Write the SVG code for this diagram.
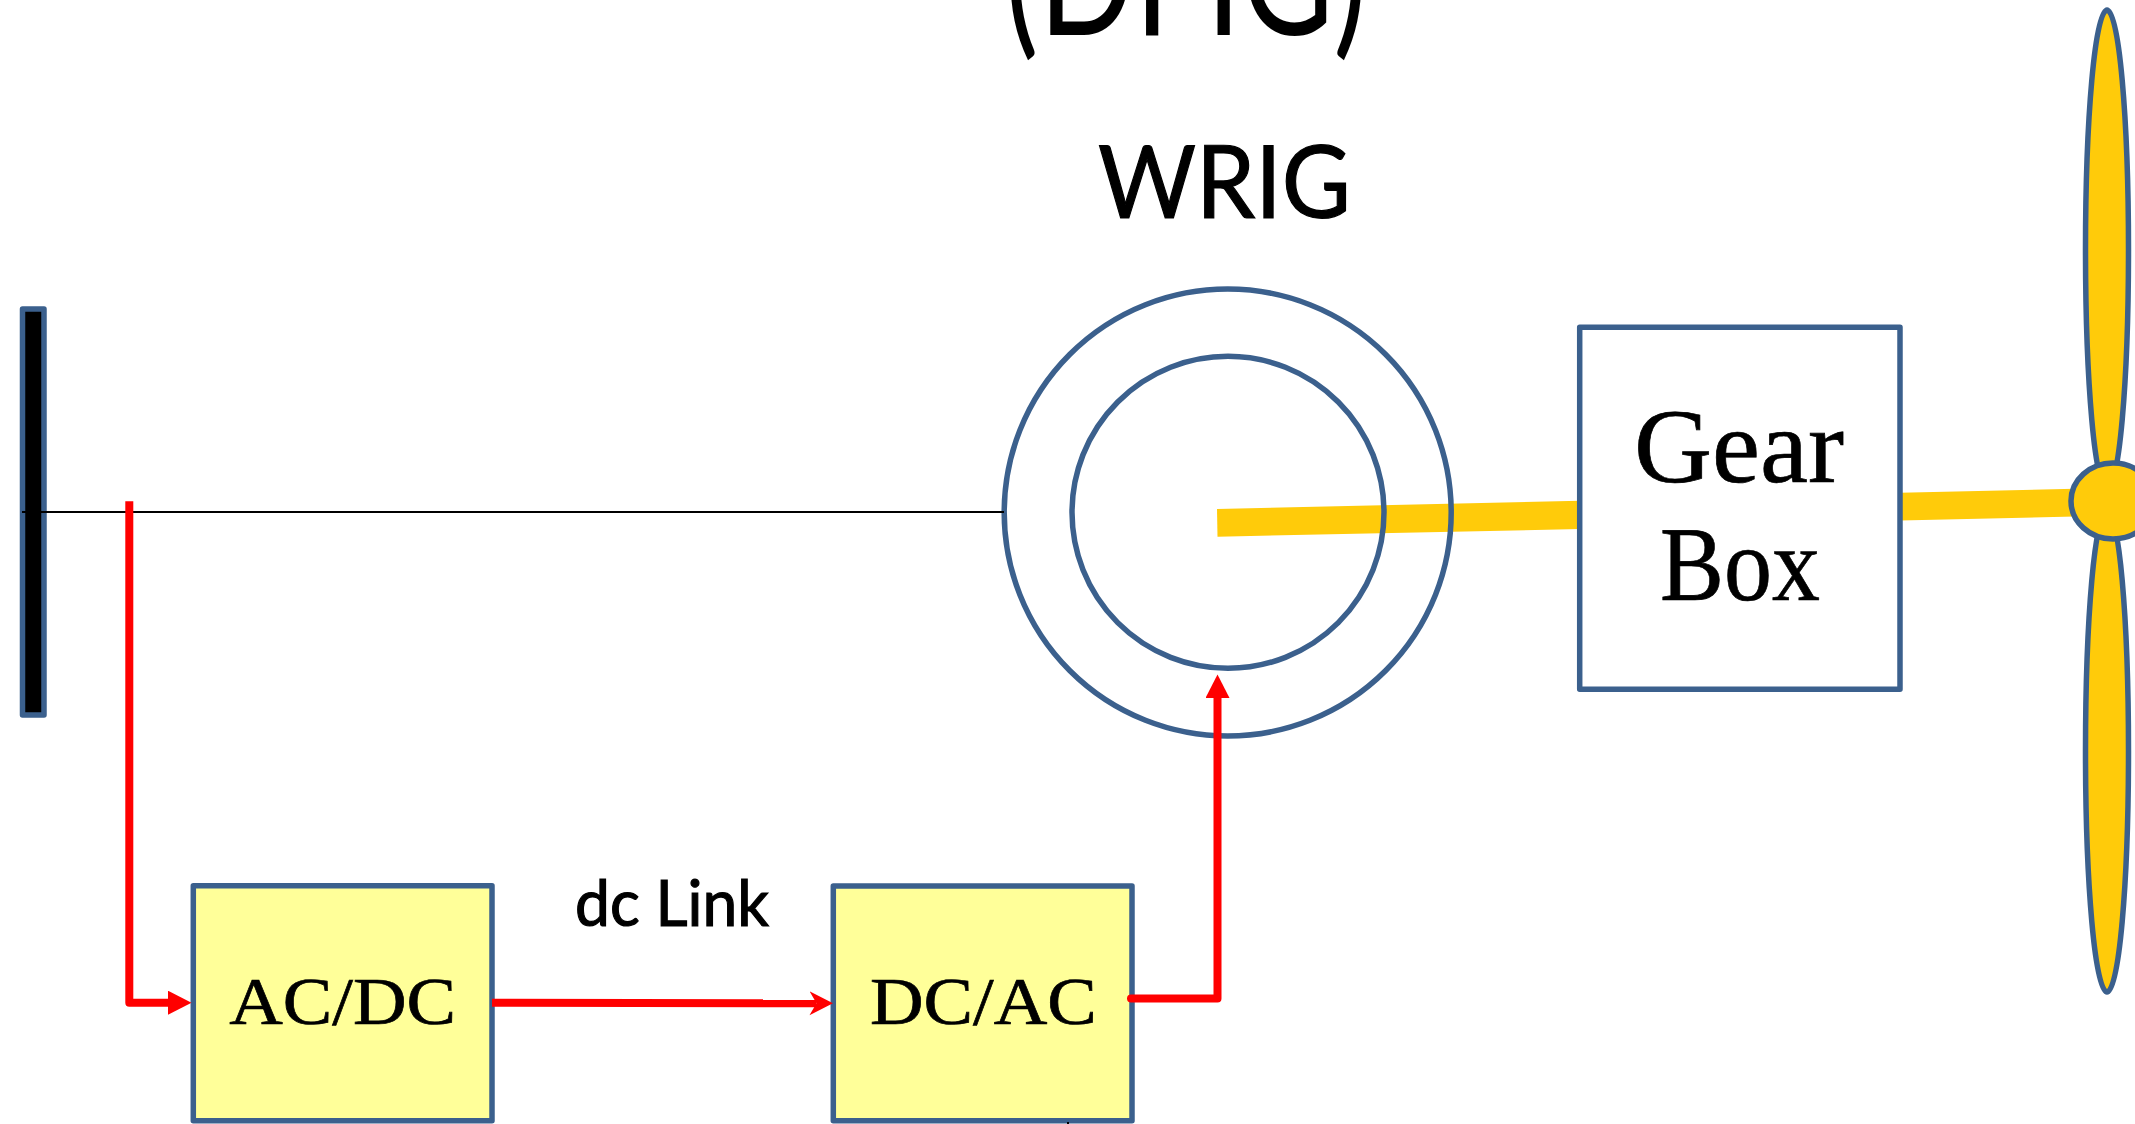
<svg xmlns="http://www.w3.org/2000/svg" width="2135" height="1124" viewBox="0 0 2135 1124">
<defs>
<style>
.b{stroke:#3B608D;stroke-width:5.5;stroke-linejoin:round}
.ring{fill:none}
.conv{fill:#FFFF99}
.s{font-family:"Liberation Serif","Times New Roman",serif;fill:#000;stroke:#000;stroke-width:.7}
.l{font-family:Lato,"Open Sans",sans-serif;fill:#000}
.th{stroke:#000;stroke-width:1.2}
.red{fill:none;stroke:#FF0000;stroke-width:8;stroke-linejoin:round}
.shaft{fill:#FFCB0A}
.blade{fill:#FFCB0A}
</style>
<marker id="tri" markerUnits="userSpaceOnUse" markerWidth="26" markerHeight="26" refX="1" refY="12" orient="auto"><path d="M0 0L23.5 12L0 24Z" fill="#FF0000"/></marker>
<marker id="stealth" markerUnits="userSpaceOnUse" markerWidth="26" markerHeight="26" refX="7" refY="12" orient="auto"><path d="M0 0L23.5 12L0 24L7 12Z" fill="#FF0000"/></marker>
</defs>
<rect width="2135" height="1124" fill="#FFFFFF"/>
<text id="title" class="l" x="1005" y="35" font-size="172" textLength="362" lengthAdjust="spacingAndGlyphs">(DFIG)</text>
<g id="shafts">
<polygon class="shaft" points="1217,509 1580,500.7 1580,529 1217.5,536.7"/>
<polygon class="shaft" points="1900,492.7 2075,488.8 2075,516.6 1900,520.6"/>
</g>
<g id="generator">
<circle class="b ring" cx="1227.7" cy="512.5" r="223.5"/>
<circle class="b ring" cx="1228" cy="512.3" r="156"/>
<text class="l th" x="1098" y="218" font-size="101" textLength="253" lengthAdjust="spacingAndGlyphs">WRIG</text>
</g>
<g id="gearbox">
<rect class="b" fill="#FFFFFF" x="1579.7" y="327.3" width="320.3" height="362"/>
<text class="s" x="1634" y="481.7" font-size="106" textLength="210" lengthAdjust="spacingAndGlyphs">Gear</text>
<text class="s" x="1660" y="600" font-size="106" textLength="160" lengthAdjust="spacingAndGlyphs">Box</text>
</g>
<g id="turbine">
<ellipse class="b blade" cx="2107" cy="250" rx="21.5" ry="240"/>
<ellipse class="b blade" cx="2107" cy="751" rx="21.5" ry="241"/>
<ellipse class="b blade" cx="2113" cy="501" rx="42" ry="38"/>
</g>
<g id="busbar">
<rect class="b" fill="#000000" x="22.5" y="309" width="21.5" height="406"/>
</g>
<g id="acdc">
<rect class="b conv" x="193.3" y="885.7" width="298.7" height="235"/>
<text class="s" x="229.3" y="1024" font-size="67" textLength="226.7" lengthAdjust="spacingAndGlyphs">AC/DC</text>
</g>
<g id="dcac">
<rect class="b conv" x="833.3" y="886" width="298.7" height="234.7"/>
<text class="s" x="870" y="1024" font-size="67" textLength="226.7" lengthAdjust="spacingAndGlyphs">DC/AC</text>
</g>
<text id="dclink" class="l th" x="575" y="925.7" font-size="63" textLength="194" lengthAdjust="spacingAndGlyphs">dc Link</text>
<g id="connectors">
<line x1="22" y1="512" x2="1004" y2="512" stroke="#000000" stroke-width="2"/>
<line x1="1068" y1="1122" x2="1068" y2="1124" stroke="#000000" stroke-width="2"/>
<path class="red" d="M129.3 501.3V1002.7H169" marker-end="url(#tri)"/>
<path class="red" d="M492 1002.7L816.5 1003.3" marker-end="url(#stealth)"/>
<path class="red" stroke-linecap="round" d="M1131 998.5H1217.5V697" marker-end="url(#tri)"/>
</g>
</svg>
